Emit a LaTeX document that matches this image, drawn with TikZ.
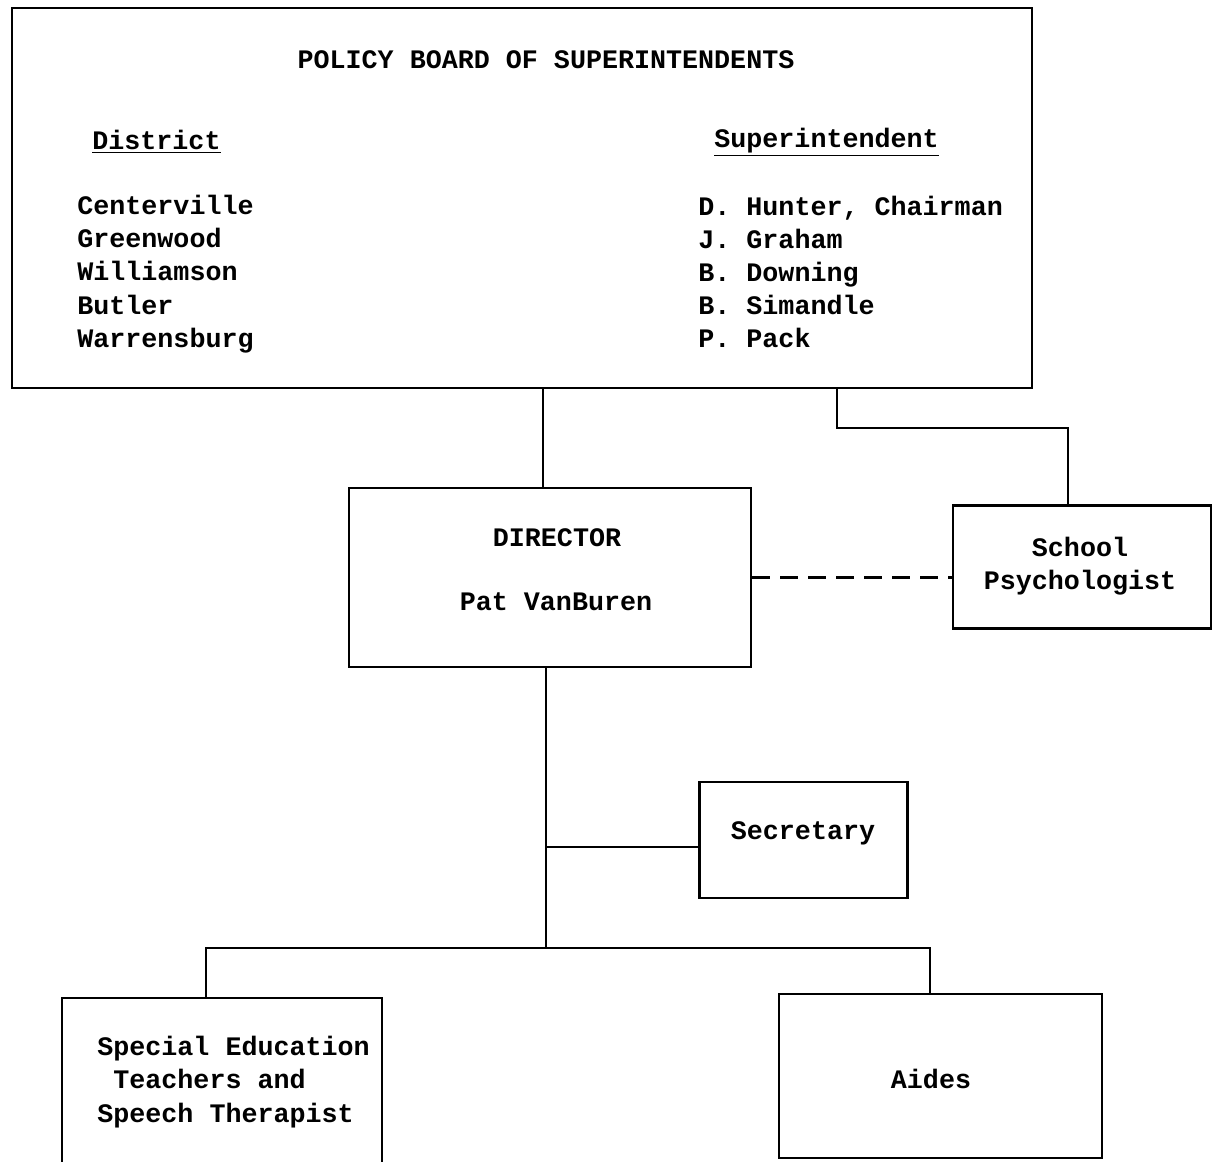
\documentclass[tikz,border=0pt]{standalone}
\usepackage{fontspec}
\setmonofont{Liberation Mono}
\usepackage{tikz}
\tikzstyle{box} = [rectangle, draw=black, line width=1.5pt, inner sep=0pt]
\tikzstyle{typed} = [font=\ttfamily\bfseries\fontsize{15.2}{18.9}\selectfont, inner sep=0pt]
\tikzstyle{link} = [line width=1.3pt]
\tikzstyle{dashlink} = [line width=1.8pt, dash pattern=on 0.36cm off 0.2cm]

\begin{document}
\begin{tikzpicture}[x=0.02cm, y=-0.02cm]
\useasboundingbox (0,0) rectangle (1216,1161);
% Boxes
\node (board) [box, minimum width=20.4cm, minimum height=7.6cm] at (522,198) {};
\node (director) [box, minimum width=8.04cm, minimum height=3.58cm] at (550,577.5) {};
\node (psych) [box, minimum width=5.16cm, minimum height=2.46cm] at (1082,567) {};
\node (secretary) [box, minimum width=4.16cm, minimum height=2.32cm] at (803.5,840) {};
\node (teachers) [box, minimum width=6.4cm, minimum height=3.54cm] at (222,1086.5) {};
\node (aides) [box, minimum width=6.46cm, minimum height=3.28cm] at (940.5,1076) {};

% Texts
\node (title) [typed] at (546,60) {POLICY BOARD OF SUPERINTENDENTS};
\node (disthead) [typed, anchor=west] at (92,142) {\underline{District}};
\node (suphead) [typed, anchor=west] at (714,142) {\underline{Superintendent}};
\node (districts) [typed, anchor=west, align=left] at (77,274) {Centerville\\Greenwood\\Williamson\\Butler\\Warrensburg};
\node (supers) [typed, anchor=west, align=left] at (698,272) {D. Hunter, Chairman\\J. Graham\\B. Downing\\B. Simandle\\P. Pack};
\node (dirtext) [typed] at (557,538) {DIRECTOR};
\node (dirname) [typed] at (556,602) {Pat VanBuren};
\node (psytext) [typed, align=center] at (1080,566) {School\\Psychologist};
\node (sectext) [typed] at (803,833) {Secretary};
\node (teachtext) [typed, anchor=west, align=left] at (97,1082) {Special Education\\\ Teachers and\\Speech Therapist};
\node (aidetext) [typed] at (931,1079) {Aides};

% Connectors
\coordinate (dirx) at (543,0);
\coordinate (psyjoin) at (837,428);
\coordinate (psyin) at (1068,0);
\coordinate (hub) at (546,948);
\coordinate (secjoin) at (546,847);
\coordinate (teachx) at (206,0);
\coordinate (aidex) at (930,0);
\draw [link] (board.south -| dirx) -- (director.north -| dirx);
\draw [link] (board.south -| psyjoin) -- (psyjoin) -| (psyin |- psych.north);
\draw [dashlink] (director.east) -- (director.east -| psych.west);
\draw [link] (director.south -| hub) -- (hub);
\draw [link] (secjoin) -- (secjoin -| secretary.west);
\draw [link] (teachx |- teachers.north) -- (teachx |- hub) -- (aidex |- hub) -- (aidex |- aides.north);
\end{tikzpicture}
\end{document}
